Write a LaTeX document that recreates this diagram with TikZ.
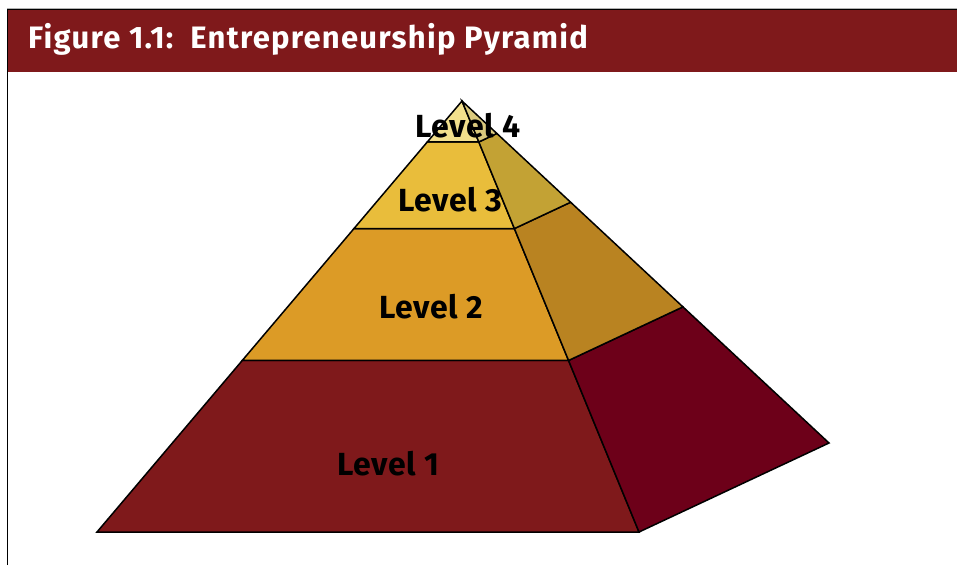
\documentclass[tikz,border=0pt]{standalone}
\usepackage{fontspec}
\setmainfont{Fira Sans}
\newfontfamily\ttlfont[LetterSpace=4]{Fira Sans}
\newfontfamily\lvlfont[LetterSpace=2]{Fira Sans}
\usetikzlibrary{calc}
\definecolor{hdr}{RGB}{127,25,27}
\definecolor{lvAf}{RGB}{127,25,27}
\definecolor{lvAs}{RGB}{109,0,25}
\definecolor{lvBf}{RGB}{220,155,38}
\definecolor{lvBs}{RGB}{185,131,33}
\definecolor{lvCf}{RGB}{233,189,59}
\definecolor{lvCs}{RGB}{195,162,52}
\definecolor{lvDf}{RGB}{243,224,140}
\definecolor{lvDs}{RGB}{218,201,125}
\tikzset{
  face/.style={draw=black, line width=1.5pt, line join=miter},
  lvl/.style={font=\lvlfont\fontsize{32}{36}\selectfont\bfseries, text=black, inner sep=0pt},
  ttl/.style={font=\ttlfont\fontsize{31}{36}\selectfont\bfseries, text=white, inner sep=0pt, anchor=base west}
}
\begin{document}
\begin{tikzpicture}[x=1pt,y=-1pt]
\useasboundingbox (0,0) rectangle (957,565);
% frame and header
\fill[hdr] (8,10) rectangle (957,72);
\draw[black, line width=1pt] (7.5,565) -- (7.5,9.5) -- (957,9.5);
\draw[gray!60, line width=0.6pt] (7,8.3) -- (957,8.3);
\node[ttl] (title) at (28,48) {Figure 1.1:\ \ Entrepreneurship Pyramid};
% pyramid key points
\coordinate (A) at (462,101);
\coordinate (L0) at (97,532);
\coordinate (F0) at (639,532);
\coordinate (R0) at (829,443);
\foreach \n/\t in {1/0.095,2/0.296,3/0.602}{
  \coordinate (L\n) at ($(A)!\t!(L0)$);
  \coordinate (F\n) at ($(A)!\t!(F0)$);
  \coordinate (R\n) at ($(A)!\t!(R0)$);
}
% level 1
\filldraw[face, fill=lvAf] (L3) -- (F3) -- (F0) -- (L0) -- cycle;
\filldraw[face, fill=lvAs] (F3) -- (R3) -- (R0) -- (F0) -- cycle;
% level 2
\filldraw[face, fill=lvBf] (L2) -- (F2) -- (F3) -- (L3) -- cycle;
\filldraw[face, fill=lvBs] (F2) -- (R2) -- (R3) -- (F3) -- cycle;
% level 3
\filldraw[face, fill=lvCf] (L1) -- (F1) -- (F2) -- (L2) -- cycle;
\filldraw[face, fill=lvCs] (F1) -- (R1) -- (R2) -- (F2) -- cycle;
% level 4
\filldraw[face, fill=lvDf] (A) -- (F1) -- (L1) -- cycle;
\filldraw[face, fill=lvDs] (A) -- (R1) -- (F1) -- cycle;
% labels
\node[lvl] (t1) at (388,464) {Level 1};
\node[lvl] (t2) at (431,307) {Level 2};
\node[lvl] (t3) at (450,200) {Level 3};
\node[lvl] (t4) at (468,126) {Level 4};
\end{tikzpicture}
\end{document}
